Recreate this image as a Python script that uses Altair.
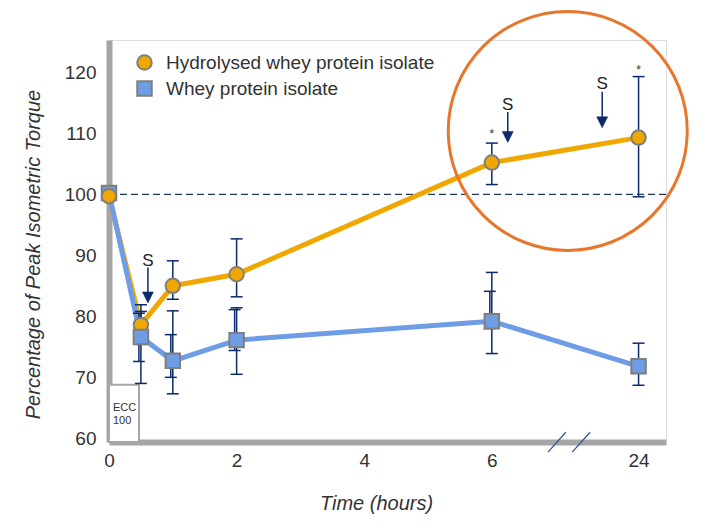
import altair as alt
import pandas as pd

# ---------------- data ----------------
times = [0, 0.5, 1, 2, 6, 24]
series_names = ["Hydrolysed whey protein isolate", "Whey protein isolate"]
hwpi_mean = [99.7, 78.6, 85.0, 86.9, 105.2, 109.3]
wpi_mean = [100.2, 76.6, 72.7, 76.1, 79.2, 71.8]
hwpi_lo = [None, 75.4, 82.8, 83.2, 101.6, 99.6]
hwpi_hi = [None, 81.9, 89.1, 92.7, 108.4, 119.3]
wpi_lo = [None, 69.0, 67.3, 70.5, 73.9, 68.7]
wpi_hi = [None, 80.8, 80.9, 81.4, 87.2, 75.6]
wpi_inner_lo = [None, 72.6, 70.0, 74.4, 78.0, None]
wpi_inner_hi = [None, 80.5, 77.0, 81.1, 84.1, None]
tick_times = [0, 2, 4, 6, 24]
tick_labels = ["0", "2", "4", "6", "24"]
y_ticks = [60, 70, 80, 90, 100, 110, 120]
signif_times = [6, 24]
signif_values = [109.3, 119.7]

# annotations (supplement arrows "S")
arrow_x = [0.61, 6.25, 7.73]
arrow_label_y = [88.3, 113.8, 117.3]
arrow_top_y = [88.0, 113.5, 116.8]
arrow_head_y = [83.1, 109.4, 111.8]

BREAK_POS = 8.3  # axis position of 24 h after the axis break


def pos(t):
    return t if t <= 6 else BREAK_POS


ORANGE = "#F0A800"
BLUE = "#6E9DE6"
NAVY = "#0A2A6B"
GRAY = "#A6A6A6"
MSTROKE = "#7F7F7F"
FONT = "Liberation Sans"

X_DOMAIN = [0, 8.73]
Y_DOMAIN = [59.4, 125.3]

label_expr = "".join(
    f"abs(datum.value - {pos(t)}) < 0.01 ? '{lab}' : " for t, lab in zip(tick_times, tick_labels)
) + "datum.label"

x_axis = alt.Axis(
    values=[pos(t) for t in tick_times], labelExpr=label_expr, labelFlush=False,
    ticks=False, grid=False, domainColor=GRAY, domainWidth=6,
    labelFont=FONT, labelFontSize=19, labelColor="#333333", labelPadding=9,
    title="Time (hours)", titleFont=FONT, titleFontSize=20, titleFontStyle="italic",
    titleFontWeight="normal", titleColor="#333333", titleX=267, titleY=61,
    titleAlign="center", titleBaseline="middle",
)
y_axis = alt.Axis(
    values=y_ticks, ticks=False, grid=False, domainColor=GRAY, domainWidth=6,
    labelFont=FONT, labelFontSize=19, labelColor="#333333", labelPadding=13,
    title="Percentage of Peak Isometric Torque", titleFont=FONT, titleFontSize=20,
    titleFontStyle="italic", titleFontWeight="normal", titleColor="#333333",
    titleAngle=-90, titleX=-76, titleY=214, titleAlign="center", titleBaseline="middle",
)
xs = alt.Scale(domain=X_DOMAIN, nice=False, zero=False)
ys = alt.Scale(domain=Y_DOMAIN, nice=False, zero=False)


def X(field="pos"):
    return alt.X(f"{field}:Q", scale=xs, axis=x_axis)


def Y(field="value"):
    return alt.Y(f"{field}:Q", scale=ys, axis=y_axis)


# ---------------- tables ----------------
line_rows = []
for s, means in zip(series_names, [hwpi_mean, wpi_mean]):
    for t, m in zip(times, means):
        line_rows.append({"series": s, "pos": pos(t), "value": m})
lines_df = pd.DataFrame(line_rows)

# points: draw order so the circle sits on top at t=0, squares on top elsewhere
pt_rows = []
for i, t in enumerate(times):
    h = {"series": series_names[0], "pos": pos(t), "value": hwpi_mean[i]}
    w = {"series": series_names[1], "pos": pos(t), "value": wpi_mean[i]}
    pt_rows += [w, h] if i == 0 else [h, w]
pts_df = pd.DataFrame(pt_rows)

err_rows, inner_rows = [], []
for i, t in enumerate(times):
    for lo, hi in [(hwpi_lo[i], hwpi_hi[i]), (wpi_lo[i], wpi_hi[i])]:
        if lo is not None:
            err_rows.append({"pos": pos(t), "lo": lo, "hi": hi})
    if wpi_inner_lo[i] is not None:
        inner_rows.append({"pos": pos(t), "lo": wpi_inner_lo[i], "hi": wpi_inner_hi[i]})
err_df = pd.DataFrame(err_rows)
inner_df = pd.DataFrame(inner_rows)
caps_df = pd.DataFrame([{"pos": r["pos"], "value": v} for r in err_rows for v in (r["lo"], r["hi"])])
icaps_df = pd.DataFrame([{"pos": r["pos"], "value": v} for r in inner_rows for v in (r["lo"], r["hi"])])

arrows_df = pd.DataFrame({"pos": arrow_x, "label_y": arrow_label_y, "top": arrow_top_y,
                          "head": arrow_head_y, "txt": ["S"] * len(arrow_x)})
signif_df = pd.DataFrame({"pos": [pos(t) for t in signif_times], "value": signif_values,
                          "txt": ["*"] * len(signif_times)})

ecc_df = pd.DataFrame({"pos": [0], "pos2": [0.47], "value": [Y_DOMAIN[0]], "value2": [68.8]})
ecc_txt_df = pd.DataFrame({"pos": [0, 0], "value": [64.9, 62.8], "txt": ["ECC", "100"]})
ref_df = pd.DataFrame({"value": [100]})
circle_df = pd.DataFrame({"pos": [7.19], "value": [110.4]})
break_df = pd.DataFrame({"pos": [6.88, 7.26], "pos2": [7.16, 7.54],
                         "value": [57.75, 57.75], "value2": [61.0, 61.0]})

# ---------------- layers ----------------
ecc_box = alt.Chart(ecc_df).mark_rect(fill="white", stroke=GRAY, strokeWidth=2).encode(
    x=X(), x2="pos2:Q", y=Y(), y2="value2:Q")
ecc_text = alt.Chart(ecc_txt_df).mark_text(align="left", baseline="middle", dx=4,
                                           font=FONT, fontSize=11, color="#333333").encode(
    x=X(), y=Y(), text="txt:N")

ref = alt.Chart(ref_df).mark_rule(color="#1F3864", strokeDash=[7, 4], strokeWidth=1.2).encode(y=Y())

line_h = alt.Chart(lines_df).transform_filter(alt.datum.series == series_names[0]).mark_line(
    color=ORANGE, strokeWidth=5).encode(x=X(), y=Y(), order="pos:Q")
line_w = alt.Chart(lines_df).transform_filter(alt.datum.series == series_names[1]).mark_line(
    color=BLUE, strokeWidth=5).encode(x=X(), y=Y(), order="pos:Q")

err = alt.Chart(err_df).mark_rule(color=NAVY, strokeWidth=1.5).encode(x=X(), y=Y("lo"), y2="hi:Q")
caps = alt.Chart(caps_df).mark_point(shape="M-1,0L1,0", size=144, filled=False, stroke=NAVY,
                                     strokeWidth=1.5, opacity=1).encode(x=X(), y=Y())
ierr = alt.Chart(inner_df).mark_rule(color=NAVY, strokeWidth=1.5, xOffset=-2).encode(
    x=X(), y=Y("lo"), y2="hi:Q")
icaps = alt.Chart(icaps_df).mark_point(shape="M-1,0L1,0", size=144, filled=False, stroke=NAVY,
                                       strokeWidth=1.5, opacity=1, xOffset=-2).encode(x=X(), y=Y())

legend = alt.Legend(title=None, orient="none", legendX=26, legendY=13, labelLimit=500,
                    labelFont=FONT, labelFontSize=19, labelColor="#333333", labelOffset=12,
                    symbolSize=210, symbolStrokeColor=MSTROKE, symbolStrokeWidth=2,
                    symbolOpacity=1, rowPadding=3)
points = alt.Chart(pts_df).mark_point(filled=True, strokeWidth=2, opacity=1,
                                      size=210).encode(
    x=X(), y=Y(),
    fill=alt.Fill("series:N", scale=alt.Scale(domain=series_names, range=[ORANGE, BLUE]), legend=legend),
    stroke=alt.Stroke("series:N", scale=alt.Scale(domain=series_names, range=[MSTROKE, MSTROKE]),
                      legend=legend),
    shape=alt.Shape("series:N", scale=alt.Scale(domain=series_names, range=["circle", "square"]),
                    legend=legend),
)

highlight = alt.Chart(circle_df).mark_point(shape="circle", filled=False, size=239 ** 2,
                                            stroke="#E8772E", strokeWidth=3, opacity=1).encode(
    x=X(), y=Y())

shaft = alt.Chart(arrows_df).mark_rule(color=NAVY, strokeWidth=1.5).encode(x=X(), y=Y("top"), y2="head:Q")
head = alt.Chart(arrows_df).mark_point(shape="M-1,-1L1,-1L0,1Z", size=121, filled=True, fill=NAVY,
                                       stroke=NAVY, strokeWidth=0.5, opacity=1).encode(x=X(), y=Y("head"))
s_text = alt.Chart(arrows_df).mark_text(baseline="alphabetic", align="center", font=FONT, fontSize=17,
                                        color="#222222").encode(x=X(), y=Y("label_y"), text="txt:N")
signif = alt.Chart(signif_df).mark_text(baseline="alphabetic", align="center", font=FONT, fontSize=13,
                                        color="#444444").encode(x=X(), y=Y(), text="txt:N")

breaks = alt.Chart(break_df).mark_rule(color="#2F4F8F", strokeWidth=1.2).encode(
    x=X(), x2="pos2:Q", y=Y(), y2="value2:Q")

chart = alt.layer(
    ecc_box, ecc_text, ref, line_h, line_w, err, caps, ierr, icaps, points,
    highlight, shaft, head, s_text, signif, breaks,
).properties(
    width=557, height=402,
    autosize=alt.AutoSizeParams(type="none"),
    padding={"left": 101, "top": 32, "right": 46, "bottom": 78},
).configure_view(stroke=None).configure(background="white")

chart.save("out.html", embed_options={"renderer": "svg", "actions": False})
